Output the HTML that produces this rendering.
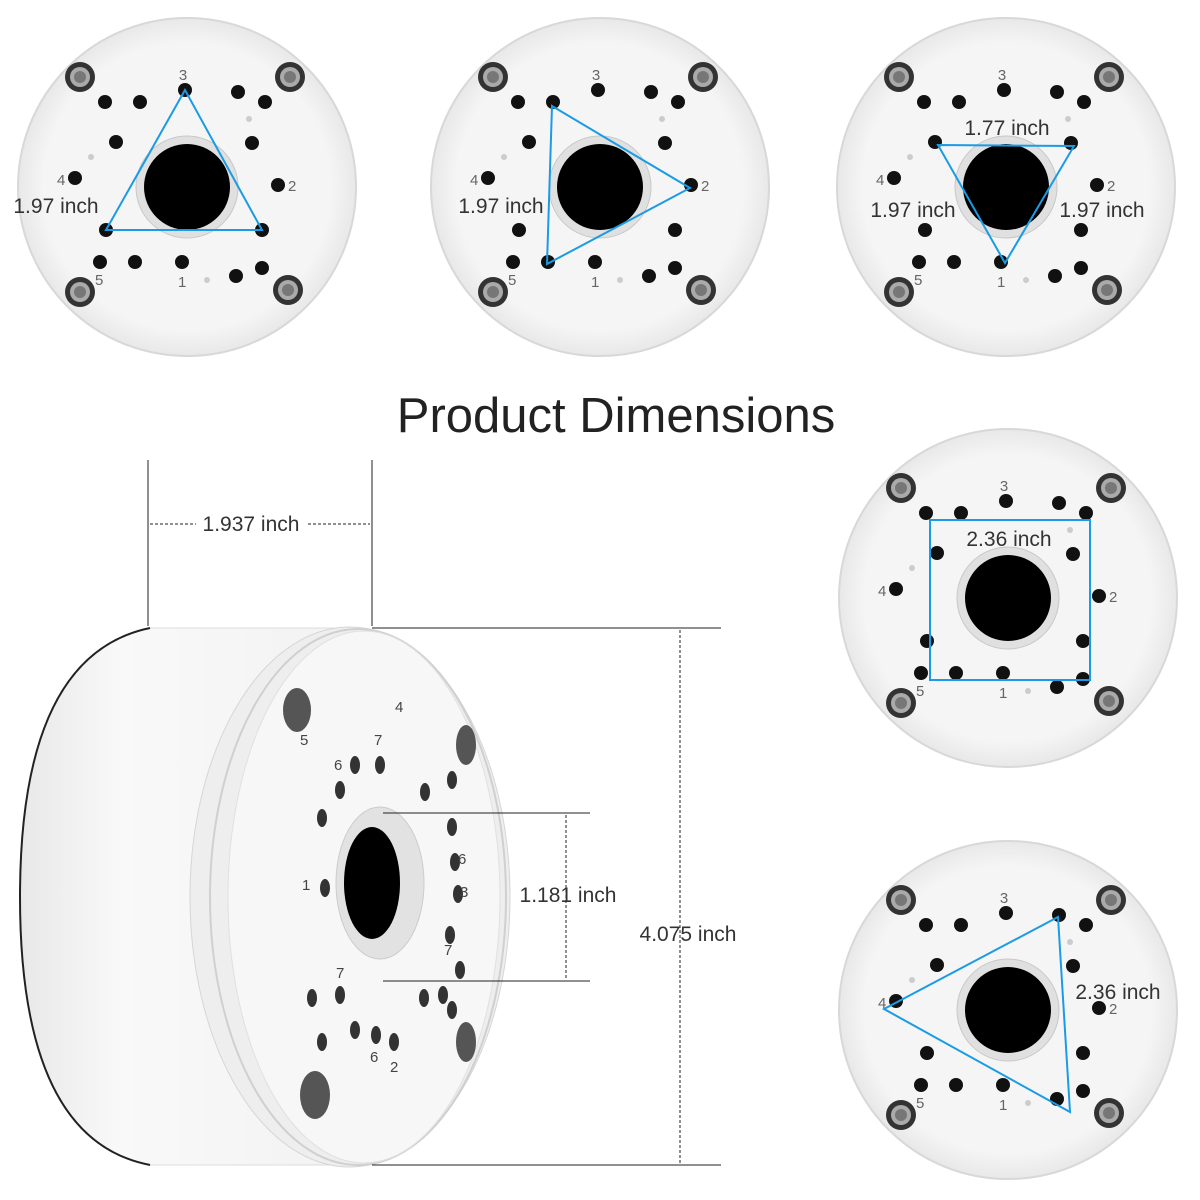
<!DOCTYPE html>
<html><head><meta charset="utf-8"><style>
html,body{margin:0;padding:0;background:#fff}
svg{display:block}
text{font-family:"Liberation Sans",sans-serif}
</style></head><body>
<svg width="1200" height="1200" viewBox="0 0 1200 1200" xmlns="http://www.w3.org/2000/svg">
<defs>
<radialGradient id="pg" cx="50%" cy="50%" r="50%"><stop offset="0.85" stop-color="#f5f5f5"/><stop offset="1" stop-color="#e8e8e8"/></radialGradient>
<linearGradient id="body" x1="0" x2="1" y1="0" y2="0"><stop offset="0" stop-color="#e8e8e8"/><stop offset="0.3" stop-color="#f9f9f9"/><stop offset="1" stop-color="#f2f2f2"/></linearGradient>
<g id="screw"><circle r="15" fill="#333"/><circle r="10" fill="#aaa"/><circle r="6" fill="#777"/></g>
<g id="plate">
<circle r="169" fill="url(#pg)" stroke="#d8d8d8" stroke-width="2"/>
<circle r="51" fill="#e0e0e0" stroke="#c8c8c8"/>
<circle r="43" fill="#000"/>
<use href="#screw" x="-107" y="-110"/><use href="#screw" x="103" y="-110"/>
<use href="#screw" x="-107" y="105"/><use href="#screw" x="101" y="103"/>
<g fill="#111">
<circle cx="-82" cy="-85" r="7"/><circle cx="-47" cy="-85" r="7"/><circle cx="51" cy="-95" r="7"/><circle cx="78" cy="-85" r="7"/>
<circle cx="-71" cy="-45" r="7"/><circle cx="65" cy="-44" r="7"/><circle cx="-112" cy="-9" r="7"/><circle cx="91" cy="-2" r="7"/>
<circle cx="-87" cy="75" r="7"/><circle cx="-52" cy="75" r="7"/><circle cx="-5" cy="75" r="7"/><circle cx="49" cy="89" r="7"/><circle cx="75" cy="81" r="7"/>
<circle cx="-2" cy="-97" r="7"/><circle cx="-81" cy="43" r="7"/><circle cx="75" cy="43" r="7"/>
</g>
<g fill="#666" font-size="15">
<text x="-4" y="-107" text-anchor="middle">3</text><text x="-130" y="-2">4</text><text x="101" y="4">2</text><text x="-92" y="98">5</text><text x="-9" y="100">1</text>
</g>
<circle cx="-96" cy="-30" r="3" fill="#ccc"/><circle cx="20" cy="93" r="3" fill="#ccc"/><circle cx="62" cy="-68" r="3" fill="#ccc"/>
</g>
</defs>

<use href="#plate" x="187" y="187"/>
<polygon points="185,90 106,230 262,230" fill="none" stroke="#1a9be6" stroke-width="2"/>
<text x="56" y="213" font-size="21" text-anchor="middle" fill="#333">1.97 inch</text>

<use href="#plate" x="600" y="187"/>
<polygon points="552,106 690,188 547,264" fill="none" stroke="#1a9be6" stroke-width="2"/>
<text x="501" y="213" font-size="21" text-anchor="middle" fill="#333">1.97 inch</text>

<use href="#plate" x="1006" y="187"/>
<polygon points="938,145 1074,146 1005,263" fill="none" stroke="#1a9be6" stroke-width="2"/>
<text x="1007" y="135" font-size="21" text-anchor="middle" fill="#333">1.77 inch</text>
<text x="913" y="217" font-size="21" text-anchor="middle" fill="#333">1.97 inch</text>
<text x="1102" y="217" font-size="21" text-anchor="middle" fill="#333">1.97 inch</text>

<text x="616" y="432" font-size="49" text-anchor="middle" fill="#222">Product Dimensions</text>

<use href="#plate" x="1008" y="598"/>
<rect x="930" y="520" width="160" height="160" fill="none" stroke="#1a9be6" stroke-width="2"/>
<text x="1009" y="546" font-size="21" text-anchor="middle" fill="#333">2.36 inch</text>

<use href="#plate" x="1008" y="1010"/>
<polygon points="884,1009 1058,917 1070,1112" fill="none" stroke="#1a9be6" stroke-width="2"/>
<text x="1118" y="999" font-size="21" text-anchor="middle" fill="#333">2.36 inch</text>

<path d="M150,628 L360,628 L360,1165 L150,1165 Q20,1140 20,897 Q20,655 150,628 Z" fill="url(#body)" stroke="#ddd"/>
<path d="M150,628 Q20,655 20,897 Q20,1140 150,1165" fill="none" stroke="#222" stroke-width="2"/>
<ellipse cx="350" cy="897" rx="160" ry="270" fill="#eee" stroke="#d6d6d6"/>
<ellipse cx="358" cy="897" rx="148" ry="268" fill="none" stroke="#d0d0d0" stroke-width="2"/>
<ellipse cx="364" cy="897" rx="136" ry="266" fill="#f7f7f7" stroke="#e0e0e0"/>
<ellipse cx="380" cy="883" rx="44" ry="76" fill="#e2e2e2" stroke="#ccc"/>
<ellipse cx="372" cy="883" rx="28" ry="56" fill="#000"/>
<g fill="#555">
<ellipse cx="297" cy="710" rx="14" ry="22"/><ellipse cx="466" cy="745" rx="10" ry="20"/><ellipse cx="466" cy="1042" rx="10" ry="20"/><ellipse cx="315" cy="1095" rx="15" ry="24"/>
</g>
<g fill="#333">
<ellipse cx="380" cy="765" rx="5" ry="9"/><ellipse cx="355" cy="765" rx="5" ry="9"/><ellipse cx="340" cy="790" rx="5" ry="9"/><ellipse cx="322" cy="818" rx="5" ry="9"/>
<ellipse cx="425" cy="792" rx="5" ry="9"/><ellipse cx="452" cy="780" rx="5" ry="9"/><ellipse cx="452" cy="827" rx="5" ry="9"/><ellipse cx="455" cy="862" rx="5" ry="9"/>
<ellipse cx="458" cy="894" rx="5" ry="9"/><ellipse cx="450" cy="935" rx="5" ry="9"/><ellipse cx="460" cy="970" rx="5" ry="9"/>
<ellipse cx="325" cy="888" rx="5" ry="9"/><ellipse cx="312" cy="998" rx="5" ry="9"/><ellipse cx="340" cy="995" rx="5" ry="9"/>
<ellipse cx="424" cy="998" rx="5" ry="9"/><ellipse cx="443" cy="995" rx="5" ry="9"/><ellipse cx="452" cy="1010" rx="5" ry="9"/>
<ellipse cx="322" cy="1042" rx="5" ry="9"/><ellipse cx="355" cy="1030" rx="5" ry="9"/><ellipse cx="376" cy="1035" rx="5" ry="9"/><ellipse cx="394" cy="1042" rx="5" ry="9"/>
</g>
<g fill="#444" font-size="15">
<text x="300" y="745">5</text><text x="395" y="712">4</text><text x="374" y="745">7</text><text x="334" y="770">6</text><text x="302" y="890">1</text>
<text x="458" y="864">6</text><text x="460" y="897">3</text><text x="444" y="955">7</text><text x="336" y="978">7</text><text x="370" y="1062">6</text><text x="390" y="1072">2</text>
</g>

<g stroke="#222" stroke-width="1" fill="none">
<line x1="148" y1="460" x2="148" y2="626"/><line x1="372" y1="460" x2="372" y2="626"/>
<line x1="150" y1="524" x2="196" y2="524" stroke-dasharray="3,2"/><line x1="308" y1="524" x2="370" y2="524" stroke-dasharray="3,2"/>
<line x1="372" y1="628" x2="721" y2="628"/><line x1="372" y1="1165" x2="721" y2="1165"/>
<line x1="680" y1="630" x2="680" y2="1163" stroke-dasharray="3,2"/>
<line x1="383" y1="813" x2="590" y2="813"/><line x1="383" y1="981" x2="590" y2="981"/>
<line x1="566" y1="815" x2="566" y2="979" stroke-dasharray="3,2"/>
</g>
<text x="251" y="531" font-size="21" text-anchor="middle" fill="#333">1.937 inch</text>
<text x="568" y="902" font-size="21" text-anchor="middle" fill="#333">1.181 inch</text>
<text x="688" y="941" font-size="21" text-anchor="middle" fill="#333">4.075 inch</text>
</svg>
</body></html>
